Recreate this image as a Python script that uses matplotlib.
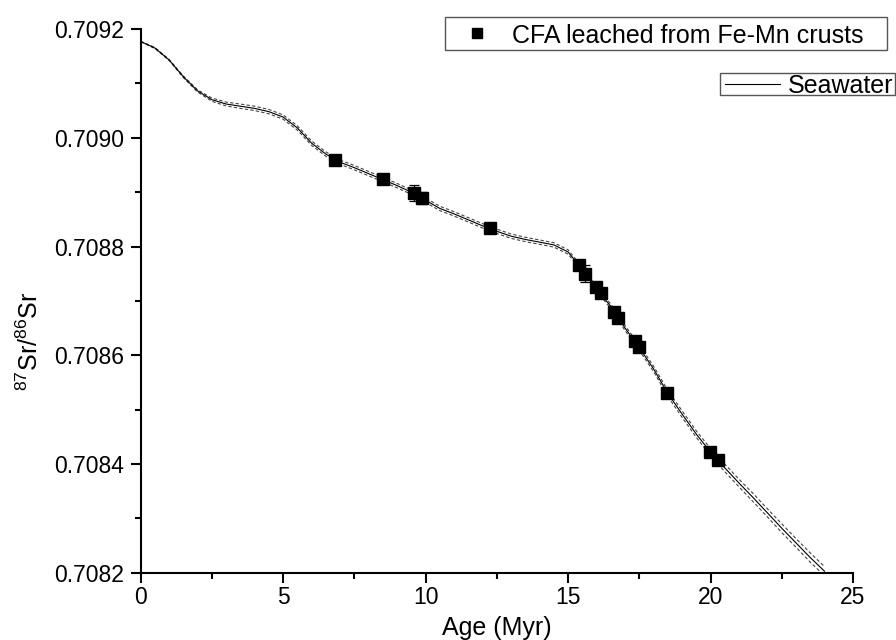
import numpy as np
import matplotlib.pyplot as plt
from matplotlib.lines import Line2D
from matplotlib.patches import Rectangle

plt.rcParams['font.family'] = ['Liberation Sans', 'DejaVu Sans']
plt.rcParams['mathtext.default'] = 'regular'

# seawater Sr isotope curve (age in Myr) with its uncertainty band
sw_age = [0.0, 0.5, 1.0, 1.5, 2.0, 2.5, 3.0, 3.5, 4.0, 4.5, 5.0, 5.5, 6.0,
          6.5, 7.0, 7.5, 8.0, 8.5, 9.0, 9.5, 10.0, 10.5, 11.0, 11.5, 12.0,
          12.5, 13.0, 13.5, 14.0, 14.5, 15.0, 15.5, 16.0, 16.5, 17.0, 17.5,
          18.0, 18.5, 19.0, 19.5, 20.0, 20.5, 21.0, 21.5, 22.0, 22.5, 23.0,
          23.5, 24.0]
sw_sr = [0.709177, 0.709165, 0.709143, 0.709112, 0.709086, 0.709070,
         0.709062, 0.709058, 0.709054, 0.709048, 0.709038, 0.709018,
         0.708990, 0.708970, 0.708955, 0.708945, 0.708934, 0.708923,
         0.708912, 0.708900, 0.708885, 0.708870, 0.708860, 0.708849,
         0.708838, 0.708828, 0.708819, 0.708813, 0.708808, 0.708803,
         0.708790, 0.708758, 0.708722, 0.708690, 0.708650, 0.708614,
         0.708575, 0.708530, 0.708492, 0.708455, 0.708422, 0.708393,
         0.708365, 0.708338, 0.708310, 0.708282, 0.708255, 0.708228,
         0.708203]
sw_err = [0.0000005, 0.000001, 0.000001, 0.0000015, 0.000002, 0.000003,
          0.0000035, 0.000004, 0.000004, 0.000004, 0.000004, 0.000004,
          0.000004, 0.000004, 0.000004, 0.000004, 0.000004, 0.000004,
          0.000004, 0.000004, 0.000004, 0.000004, 0.000004, 0.000004,
          0.000004, 0.000004, 0.000004, 0.000004, 0.000004, 0.000004,
          0.000004, 0.000004, 0.000004, 0.000004, 0.0000045, 0.000005,
          0.000005, 0.0000055, 0.000006, 0.000006, 0.0000065, 0.000007,
          0.000007, 0.0000075, 0.0000075, 0.000008, 0.000008, 0.0000085,
          0.0000085]

# CFA leached from Fe-Mn crusts
cfa_age = [6.81, 8.49, 9.60, 9.89, 12.25, 15.39, 15.59, 15.98, 16.14, 16.62,
           16.76, 17.35, 17.50, 18.48, 19.98, 20.25]
cfa_sr = [0.708959, 0.708924, 0.708898, 0.708889, 0.708834, 0.708766,
          0.708750, 0.708725, 0.708714, 0.708679, 0.708668, 0.708626,
          0.708616, 0.708531, 0.708422, 0.708408]
cfa_err = [0.000004, 0.000004, 0.000015, 0.000011, 0.000004, 0.000010,
           0.000016, 0.000005, 0.000005, 0.000005, 0.000005, 0.000005,
           0.000005, 0.000007, 0.000005, 0.000009]

sw_age = np.array(sw_age)
sw_sr = np.array(sw_sr)
sw_err = np.array(sw_err)

fig = plt.figure(figsize=(8.96, 6.4), dpi=100)
ax = fig.add_axes([0.157, 0.105, 0.795, 0.8497])

ax.plot(sw_age, sw_sr + sw_err, color='#444444', lw=0.8, ls=(0, (3, 2)))
ax.plot(sw_age, sw_sr - sw_err, color='#444444', lw=0.8, ls=(0, (3, 2)))
ax.plot(sw_age, sw_sr, color='black', lw=0.8)

ax.errorbar(cfa_age, cfa_sr, yerr=cfa_err, fmt='s', color='black',
            markersize=8, elinewidth=0.9, capsize=3.5, capthick=0.9,
            zorder=5)

ax.set_xlim(0, 25)
ax.set_ylim(0.7082, 0.7092)
ax.set_xticks([0, 5, 10, 15, 20, 25])
ax.set_xticks(np.arange(2.5, 25, 5), minor=True)
ax.set_yticks([0.7082, 0.7084, 0.7086, 0.7088, 0.7090, 0.7092])
ax.set_yticks([0.7083, 0.7085, 0.7087, 0.7089, 0.7091], minor=True)
ax.set_yticklabels(['0.7082', '0.7084', '0.7086', '0.7088', '0.7090', '0.7092'])

for s in ['top', 'right']:
    ax.spines[s].set_visible(False)
for s in ['left', 'bottom']:
    ax.spines[s].set_linewidth(1.5)
ax.tick_params(which='major', direction='out', length=7.2, width=1.5,
               labelsize=16.5)
ax.tick_params(which='minor', direction='out', length=4.3, width=1.5)
ax.tick_params(axis='x', pad=2)
ax.tick_params(axis='y', pad=5)

ax.set_xlabel('Age (Myr)', fontsize=18, labelpad=5)
ax.set_ylabel('$^{87}$Sr/$^{86}$Sr', fontsize=18)
ax.yaxis.set_label_coords(-0.137, 0.425)

# legend boxes, drawn in figure coordinates
fig.patches.append(Rectangle((0.4967, 0.9219), 0.4933, 0.0516,
                             transform=fig.transFigure, fill=False,
                             edgecolor='#555555', lw=1.0))
fig.lines.append(Line2D([0.5324], [0.9477], marker='s', color='black',
                        markersize=7, transform=fig.transFigure))
fig.text(0.5714, 0.9333, 'CFA leached from Fe-Mn crusts', fontsize=18,
         va='baseline', ha='left')

fig.patches.append(Rectangle((0.8036, 0.8516), 0.1953, 0.0344,
                             transform=fig.transFigure, fill=False,
                             edgecolor='#555555', lw=1.0))
fig.lines.append(Line2D([0.8092, 0.8705], [0.8683, 0.8683], color='black',
                        lw=0.8, transform=fig.transFigure))
fig.text(0.8795, 0.8542, 'Seawater', fontsize=18, va='baseline', ha='left')

fig.savefig('out.png', dpi=100)
